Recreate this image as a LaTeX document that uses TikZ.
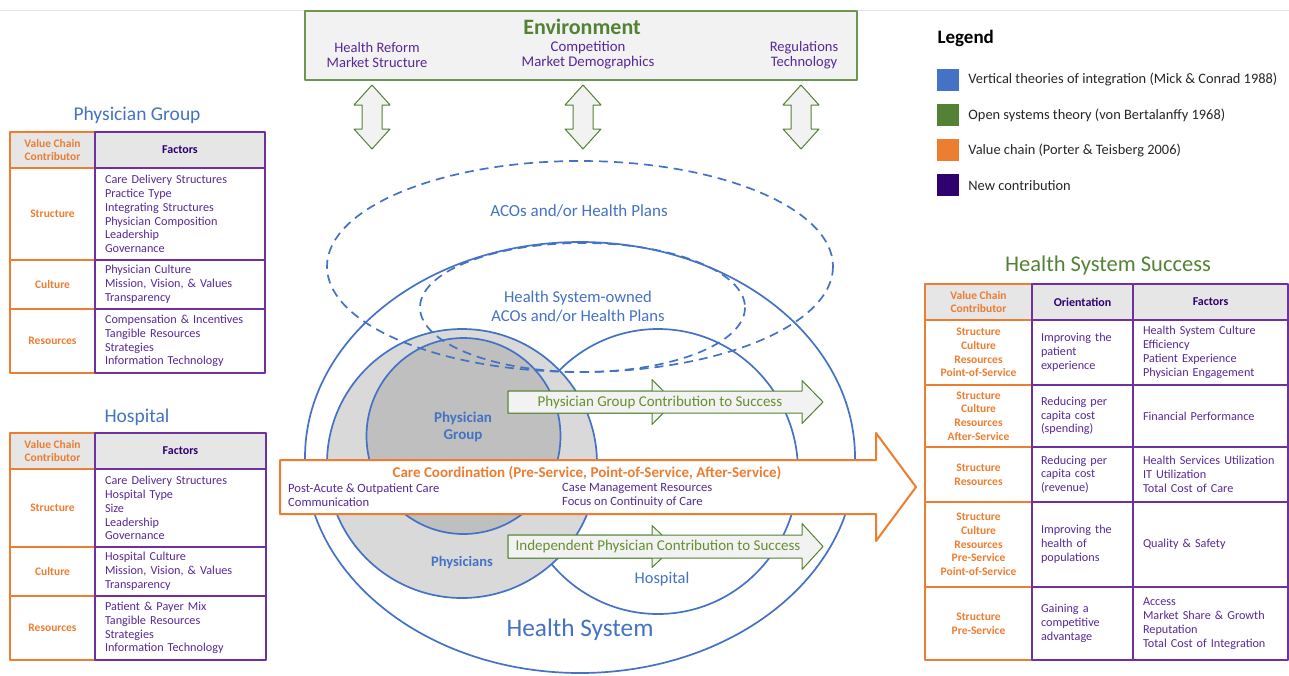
\documentclass[tikz,border=0pt]{standalone}
\usepackage{fontspec}
\setmainfont{Carlito}
\usetikzlibrary{positioning}

\definecolor{hsblue}{RGB}{68,114,196}
\definecolor{osgreen}{RGB}{84,130,53}
\definecolor{vcorange}{RGB}{237,125,49}
\definecolor{ncindigo}{RGB}{46,0,112}
\definecolor{txpurple}{RGB}{88,40,150}
\definecolor{tbpurple}{RGB}{112,48,160}
\definecolor{hdgray}{RGB}{231,230,230}
\definecolor{phgray}{RGB}{217,217,217}
\definecolor{pggray}{RGB}{191,191,191}
\definecolor{boxgray}{RGB}{242,242,242}

\newcommand{\txtsize}[2]{\fontsize{#1}{#2}\selectfont}
% block arrow: [style]{x tail}{x tip}{y mid}{half body}{half head}{head length}
\newcommand{\blockarrow}[7][]{\filldraw[#1] (#2,#4-#5) -- (#3-#7,#4-#5) -- (#3-#7,#4-#6) -- (#3,#4)
  -- (#3-#7,#4+#6) -- (#3-#7,#4+#5) -- (#2,#4+#5) -- cycle;}
% up/down arrow: [style]{x}{y top}{y bottom}
\newcommand{\updown}[4][]{\filldraw[#1] (#2,#3) -- (#2+18,#3+20) -- (#2+10,#3+20) -- (#2+10,#4-20)
  -- (#2+18,#4-20) -- (#2,#4) -- (#2-18,#4-20) -- (#2-10,#4-20) -- (#2-10,#3+20) -- (#2-18,#3+20) -- cycle;}

\tikzset{
  box/.style={rectangle, line width=1.4pt, inner sep=0pt},
  sz/.style 2 args={minimum width=#1, minimum height=#2},
  vcell/.style={box, draw=vcorange, text=vcorange, font=\txtsize{11.5}{13.7}\bfseries, align=center},
  hcell/.style={fill=hdgray},
  pcell/.style={box, draw=tbpurple},
  phead/.style={pcell, fill=hdgray, text=ncindigo, font=\txtsize{12}{13}\bfseries},
  plist/.style={pcell, text=txpurple, font=\txtsize{12.2}{13.8}, align=left, text width=#1, inner xsep=10pt},
  title/.style={text=hsblue, font=\txtsize{19.5}{20}},
  hsline/.style={draw=hsblue, line width=1.7pt},
  aco/.style={dash pattern=on 9pt off 6pt},
  garrow/.style={draw=osgreen, fill=boxgray, line width=1pt},
  gtext/.style={text=osgreen!90!yellow, font=\txtsize{15}{15}},
  blue text/.style={text=hsblue, align=center}
}

\begin{document}
\begin{tikzpicture}[x=1pt, y=-1pt, line join=round]
\useasboundingbox (0,0) rectangle (1289,675);
\draw[black!10] (0,10) -- (1289,10);

% environment
\node[box, sz={552}{69}, draw=osgreen!85, fill=boxgray, line width=1.2pt] (env) at (581,45.5) {};
\node[text=osgreen, font=\txtsize{22}{22}\bfseries] (envT) at (582,27) {Environment};
\node[text=txpurple, font=\txtsize{14.5}{15}, align=center] (envA) at (377,55.5) {Health Reform\\Market Structure};
\node[text=txpurple, font=\txtsize{14.8}{15}, align=center] (envB) at (588,55.5) {Competition\\Market Demographics};
\node[text=txpurple, font=\txtsize{14.5}{15}, align=center] (envC) at (804,55.5) {Regulations\\Technology};
\updown[garrow]{372}{85}{149}
\updown[garrow]{583}{85}{149}
\updown[garrow]{801}{85}{149}

% legend
\node[anchor=west, font=\txtsize{19}{20}\bfseries] (lg) at (934,38) {Legend};
\foreach \c/\t [count=\i] in {hsblue/Vertical theories of integration (Mick \& Conrad 1988),
    osgreen/Open systems theory (von Bertalanffy 1968),
    vcorange/Value chain (Porter \& Teisberg 2006),
    ncindigo/New contribution}
{
  \node[fill=\c, minimum size=22, inner sep=0pt] (lgbox\i) at (948,44.5+35.2*\i) {};
  \node[right=9pt of lgbox\i, inner sep=0pt, text=black!85, font=\txtsize{14.4}{16}] (lgtext\i) {\t};
}

% health system circles
\draw[hsline] (580,457.5) ellipse [x radius=275, y radius=215.5];
\draw[hsline] (658,471.5) ellipse [x radius=140, y radius=142.5];
\filldraw[hsline, fill=phgray] (462,463.5) ellipse [x radius=135, y radius=134.5];
\filldraw[hsline, fill=pggray] (463.5,436) ellipse [x radius=97, y radius=98];
\draw[hsline, aco] (580,266.5) ellipse [x radius=253, y radius=105.5];
\draw[hsline, aco] (582.5,307.5) ellipse [x radius=162.5, y radius=64.5];

\node[blue text, font=\txtsize{17}{18}] (aco) at (579,211) {ACOs and/or Health Plans};
\node[blue text, font=\txtsize{16.6}{19}] (hsaco) at (578,306.5) {Health System-owned\\ACOs and/or Health Plans};
\node[blue text, font=\txtsize{15}{16.5}\bfseries] (pg) at (463,427) {Physician\\Group};
\node[blue text, font=\txtsize{14.5}{16}\bfseries] (phys) at (462,563) {Physicians};
\node[blue text, font=\txtsize{16.4}{17}] (hosp) at (662,579) {Hospital};
\node[blue text, font=\txtsize{25.3}{26}] (hs) at (580,630) {Health System};

% contributions to success
\blockarrow[garrow]{508}{674}{402}{11}{22.5}{22}
\blockarrow[garrow]{508}{823}{402}{11}{21.5}{21}
\node[gtext] (pgc) at (660,402) {Physician Group Contribution to Success};
\blockarrow[garrow]{508}{674}{546.5}{11.5}{21}{22}
\blockarrow[garrow]{508}{823}{546.5}{11.5}{23}{21}
\node[gtext] (ipc) at (658,546.5) {Independent Physician Contribution to Success};

% care coordination
\blockarrow[draw=vcorange, fill=white, line width=2pt]{280}{916}{487}{27}{54}{40}
\node[text=vcorange, font=\txtsize{15}{15}\bfseries] (cc) at (587,473) {Care Coordination (Pre-Service, Point-of-Service, After-Service)};
\node[anchor=west, inner sep=0pt, text=txpurple, font=\txtsize{12.6}{14}, align=left] (ccL) at (288,495) {Post-Acute \& Outpatient Care\\Communication};
\node[anchor=west, inner sep=0pt, text=txpurple, font=\txtsize{12.6}{14}, align=left] (ccR) at (562,495) {Case Management Resources\\Focus on Continuity of Care};

% physician group table
\node[title] (pgT) at (137,115) {Physician Group};
\node[vcell, hcell, sz={85}{36}] (pgVC) at (52.5,150) {Value Chain\\Contributor};
\node[vcell, sz={85}{92}] (pgS) at (52.5,214) {Structure};
\node[vcell, sz={85}{49}] (pgC) at (52.5,284.5) {Culture};
\node[vcell, sz={85}{64}] (pgR) at (52.5,341) {Resources};
\node[phead, sz={170}{36}] (pgF) at (180,150) {Factors};
\node[plist=150pt, sz={170}{92}] (pgFS) at (180,214) {Care Delivery Structures\\Practice Type\\Integrating Structures\\Physician Composition\\Leadership\\Governance};
\node[plist=150pt, sz={170}{49}] (pgFC) at (180,284.5) {Physician Culture\\Mission, Vision, \& Values\\Transparency};
\node[plist=150pt, sz={170}{64}] (pgFR) at (180,341) {Compensation \& Incentives\\Tangible Resources\\Strategies\\Information Technology};

% hospital table
\node[title] (hoT) at (137,417) {Hospital};
\node[vcell, hcell, sz={85}{36}] (hoVC) at (52.5,451) {Value Chain\\Contributor};
\node[vcell, sz={85}{78}] (hoS) at (52.5,508) {Structure};
\node[vcell, sz={85}{49}] (hoC) at (52.5,571.5) {Culture};
\node[vcell, sz={85}{64}] (hoR) at (52.5,628) {Resources};
\node[phead, sz={171}{36}] (hoF) at (180.5,451) {Factors};
\node[plist=151pt, sz={171}{78}] (hoFS) at (180.5,508) {Care Delivery Structures\\Hospital Type\\Size\\Leadership\\Governance};
\node[plist=151pt, sz={171}{49}] (hoFC) at (180.5,571.5) {Hospital Culture\\Mission, Vision, \& Values\\Transparency};
\node[plist=151pt, sz={171}{64}] (hoFR) at (180.5,628) {Patient \& Payer Mix\\Tangible Resources\\Strategies\\Information Technology};

% health system success table
\node[title, text=osgreen, font=\txtsize{22.5}{23}] (hssT) at (1108,265) {Health System Success};
\node[vcell, hcell, sz={107}{36}] (hsVC) at (978.5,302) {Value Chain\\Contributor};
\node[vcell, sz={107}{65}] (hs1) at (978.5,352.5) {Structure\\Culture\\Resources\\Point-of-Service};
\node[vcell, sz={107}{62}] (hs2) at (978.5,416) {Structure\\Culture\\Resources\\After-Service};
\node[vcell, sz={107}{55}] (hs3) at (978.5,474.5) {Structure\\Resources};
\node[vcell, sz={107}{85}] (hs4) at (978.5,544.5) {Structure\\Culture\\Resources\\Pre-Service\\Point-of-Service};
\node[vcell, sz={107}{73}] (hs5) at (978.5,623.5) {Structure\\Pre-Service};
\node[phead, sz={101}{36}] (hsO) at (1082.5,302) {Orientation};
\node[plist=83pt, inner xsep=9pt, sz={101}{65}] (hsO1) at (1082.5,352.5) {Improving the\\patient\\experience};
\node[plist=83pt, inner xsep=9pt, sz={101}{62}] (hsO2) at (1082.5,416) {Reducing per\\capita cost\\(spending)};
\node[plist=83pt, inner xsep=9pt, sz={101}{55}] (hsO3) at (1082.5,474.5) {Reducing per\\capita cost\\(revenue)};
\node[plist=83pt, inner xsep=9pt, sz={101}{85}] (hsO4) at (1082.5,544.5) {Improving the\\health of\\populations};
\node[plist=83pt, inner xsep=9pt, sz={101}{73}] (hsO5) at (1082.5,623.5) {Gaining a\\competitive\\advantage};
\node[phead, sz={155}{36}] (hsF) at (1210.5,302) {Factors};
\node[plist=135pt, sz={155}{65}] (hsF1) at (1210.5,352.5) {Health System Culture\\Efficiency\\Patient Experience\\Physician Engagement};
\node[plist=135pt, sz={155}{62}] (hsF2) at (1210.5,416) {Financial Performance};
\node[plist=135pt, sz={155}{55}] (hsF3) at (1210.5,474.5) {Health Services Utilization\\IT Utilization\\Total Cost of Care};
\node[plist=135pt, sz={155}{85}] (hsF4) at (1210.5,544.5) {Quality \& Safety};
\node[plist=135pt, sz={155}{73}] (hsF5) at (1210.5,623.5) {Access\\Market Share \& Growth\\Reputation\\Total Cost of Integration};
\end{tikzpicture}
\end{document}
